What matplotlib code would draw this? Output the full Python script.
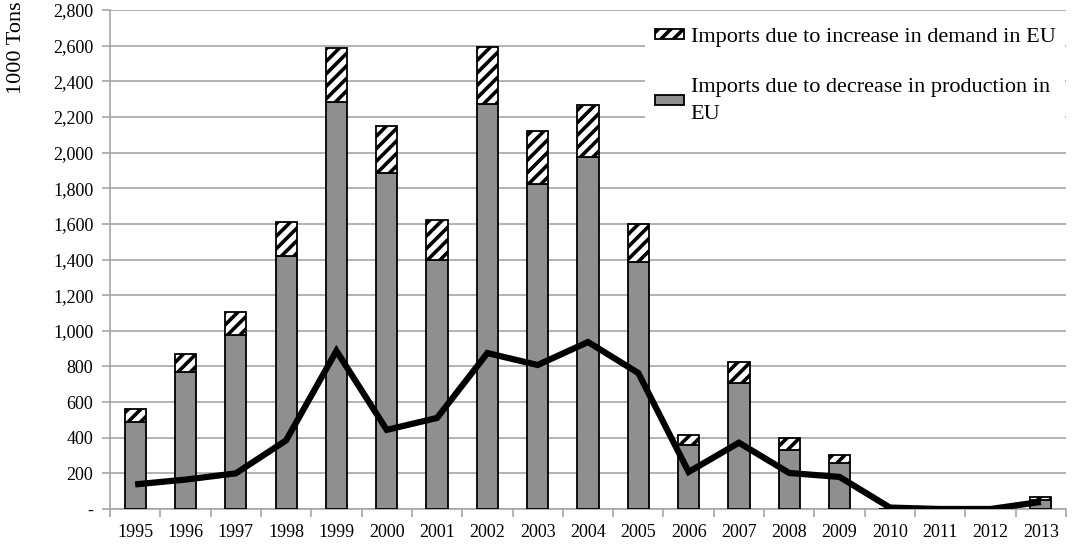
import matplotlib
matplotlib.use("Agg")
import matplotlib.pyplot as plt
import matplotlib.backend_bases as bb
from matplotlib.ticker import FuncFormatter, FixedLocator, MultipleLocator
import numpy as np

years = ["1995", "1996", "1997", "1998", "1999", "2000", "2001", "2002", "2003", "2004",
         "2005", "2006", "2007", "2008", "2009", "2010", "2011", "2012", "2013"]
production_decrease = [488, 769, 976, 1420, 2284, 1885, 1397, 2273, 1823, 1975,
                       1386, 359, 707, 333, 260, 0, 0, 0, 52]
demand_increase = [75, 101, 131, 192, 302, 264, 226, 320, 298, 292,
                   213, 56, 118, 66, 45, 0, 0, 0, 14]
line_values = [138, 165, 200, 385, 887, 444, 511, 875, 808, 937,
               763, 208, 372, 202, 180, 8, 0, 0, 40]

# hatch density tuned to the reference stripes
_orig_hatch_path = bb.GraphicsContextBase.get_hatch_path
def _hatch_path(self, density=8.5):
    return _orig_hatch_path(self, 8.5)
bb.GraphicsContextBase.get_hatch_path = _hatch_path

plt.rcParams['font.family'] = ['Liberation Serif', 'DejaVu Serif']
plt.rcParams['hatch.linewidth'] = 2.6
plt.rcParams['hatch.color'] = 'black'

fig = plt.figure(figsize=(10.75, 5.45), dpi=100)
ax = fig.add_axes([110/1075, 1-509/545, (1066-110)/1075, (509-10)/545])

x = np.arange(len(years))
w = 0.42
grid_c = '#A6A6A6'
ax.bar(x, production_decrease, width=w, color='#8F8F8F', edgecolor='black',
       linewidth=1.3, zorder=3, label='Imports due to decrease in production in\nEU')
ax.bar(x, demand_increase, width=w, bottom=production_decrease, color='white',
       edgecolor='black', hatch='//', linewidth=1.3, zorder=3,
       label='Imports due to increase in demand in EU')
ax.plot(x, line_values, color='black', linewidth=4.5, zorder=4,
        solid_joinstyle='miter', solid_capstyle='butt')

ax.set_xlim(-0.5, len(years) - 0.5)
ax.set_ylim(0, 2800)
ax.yaxis.set_major_locator(MultipleLocator(200))
ax.yaxis.set_major_formatter(FuncFormatter(lambda v, p: '-' if v == 0 else f"{int(v):,}"))
ax.grid(axis='y', color=grid_c, linewidth=1.2, zorder=0)
ax.set_axisbelow(True)

ax.set_xticks(x)
ax.set_xticklabels(years)
ax.xaxis.set_minor_locator(FixedLocator(np.arange(-0.5, len(years), 1.0)))
ax.tick_params(axis='x', which='major', length=0, pad=11, labelsize=13)
ax.tick_params(axis='x', which='minor', length=6, color=grid_c, width=1.2)
ax.tick_params(axis='y', which='major', length=6, color=grid_c, width=1.2, pad=6, labelsize=13)

for s in ['top', 'right']:
    ax.spines[s].set_visible(False)
for s in ['left', 'bottom']:
    ax.spines[s].set_color(grid_c)
    ax.spines[s].set_linewidth(1.2)

fig.text(17/1075, 1-1/545, '1000 Tons', rotation=90, va='top', ha='center', fontsize=16)

handles, labels = ax.get_legend_handles_labels()
leg = ax.legend(handles[::-1], labels[::-1], loc='upper left',
                bbox_to_anchor=((645-110)/956, 1-8/499), frameon=True,
                facecolor='white', edgecolor='none', framealpha=1, fancybox=False,
                fontsize=16, handlelength=1.3, handleheight=0.3, handletextpad=0.3,
                labelspacing=1.38, borderpad=0.45, borderaxespad=0)
for t in leg.get_texts():
    t.set_linespacing(1.62)
leg.set_zorder(5)

fig.savefig('out.png', dpi=100)
